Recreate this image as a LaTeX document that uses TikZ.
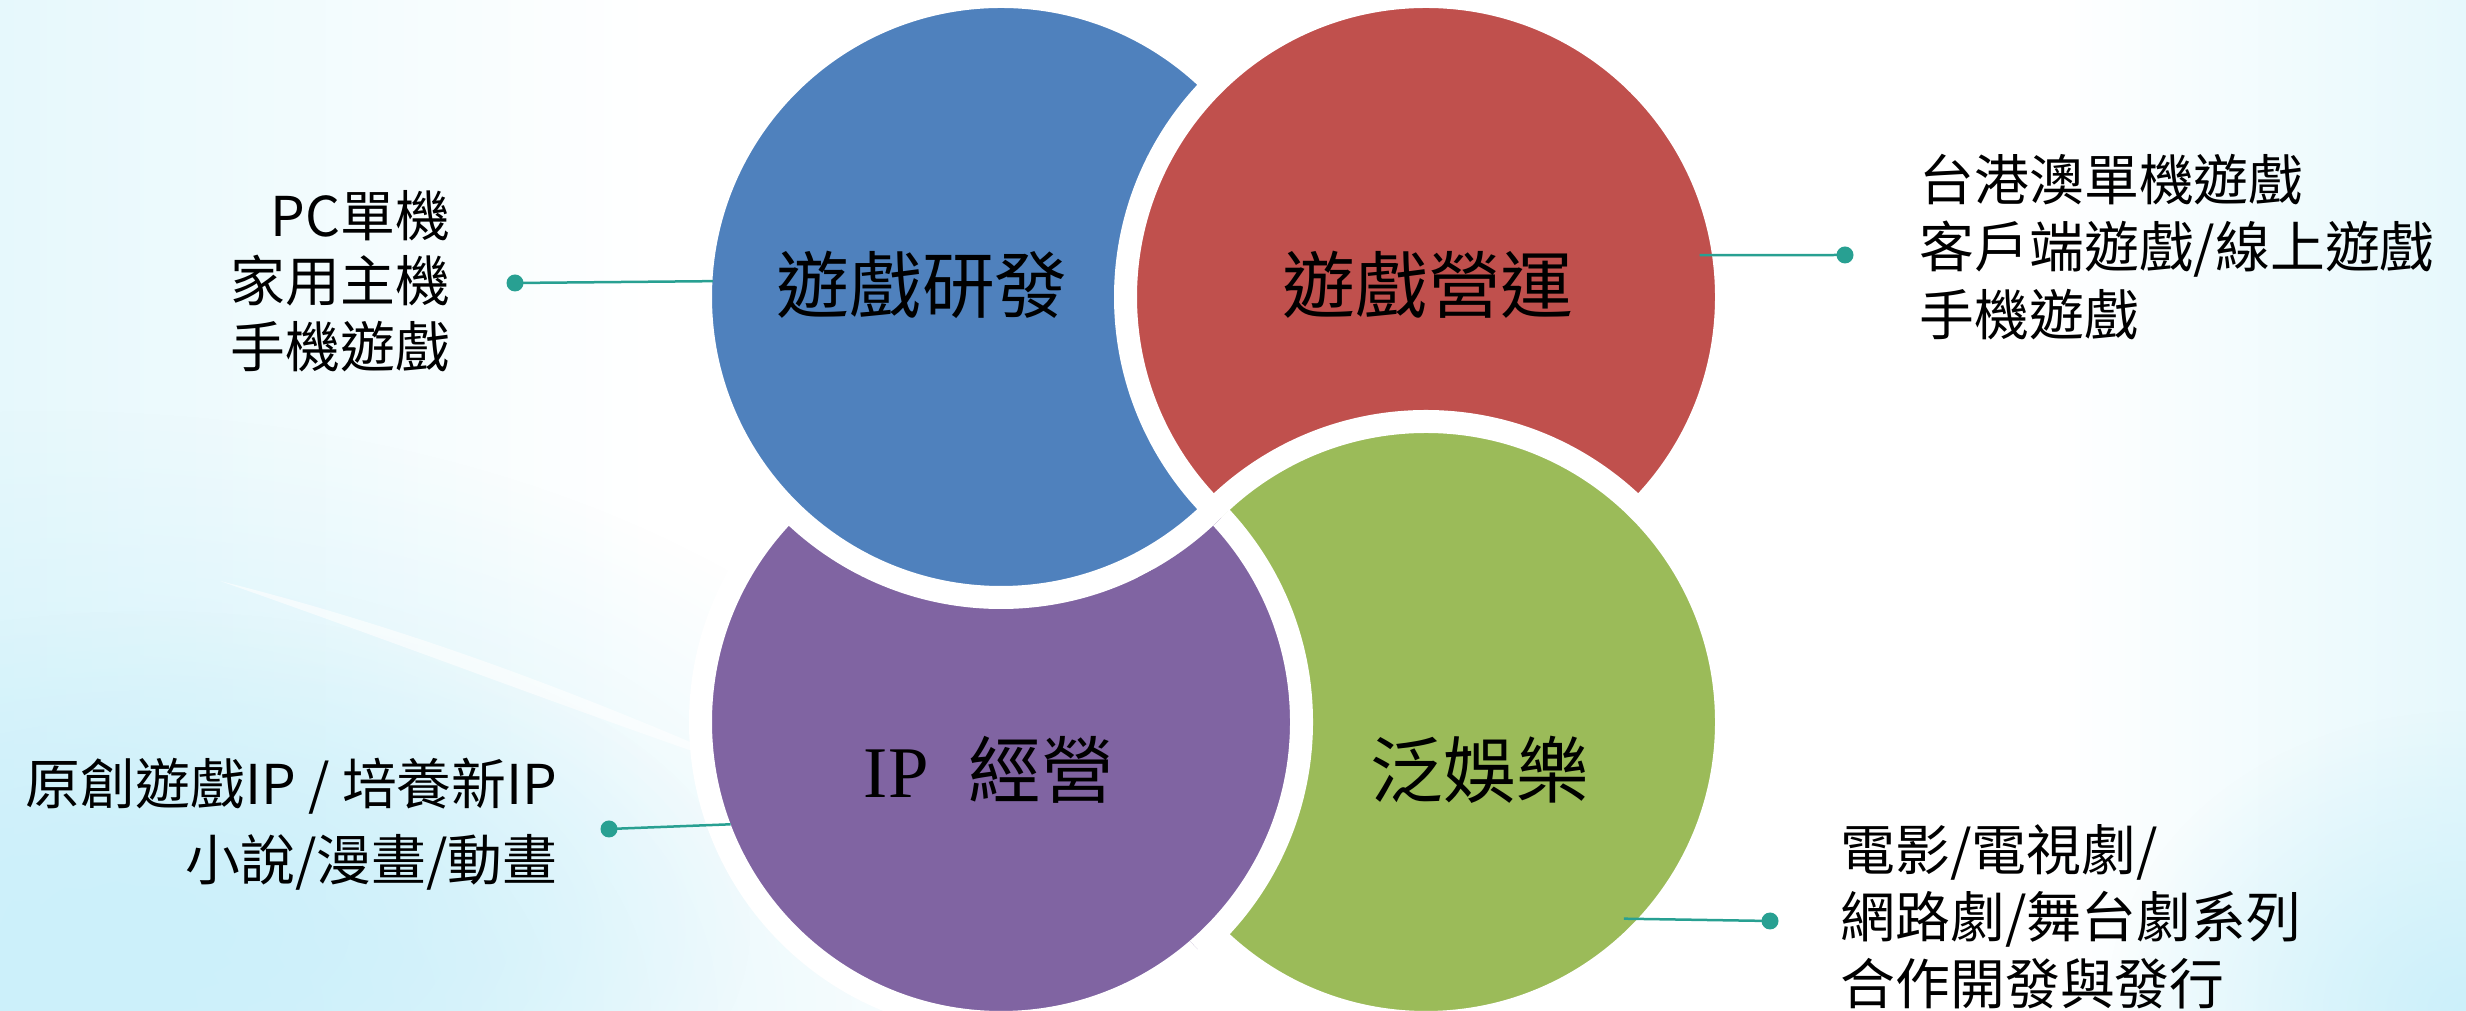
\documentclass[tikz,border=0pt]{standalone}
\usepackage{fontspec}
\setmainfont{Noto Sans CJK TC}
\newfontfamily\ipserif{Liberation Serif}
\usepackage{tikz}
\usetikzlibrary{positioning,fadings}
\tikzfading[name=softblob,inner color=transparent!0,outer color=transparent!100]

\definecolor{devblue}{RGB}{79,129,189}
\definecolor{opsred}{RGB}{192,80,77}
\definecolor{entgreen}{RGB}{155,187,89}
\definecolor{ippurple}{RGB}{128,100,162}
\definecolor{linkteal}{RGB}{40,160,146}
\definecolor{bgcyan}{RGB}{204,240,250}
\definecolor{bgcyanlight}{RGB}{230,248,252}

\begin{document}
\begin{tikzpicture}[
        bubble/.style={circle,draw=white,line width=0.23cm,inner sep=0pt,outer sep=0pt,minimum size=6.01cm,fill=#1},
        biglabel/.style={inner sep=0pt,font=\fontsize{20.7}{24}\selectfont},
        sidetext/.style={inner sep=0pt,font=\fontsize{15.6}{#1}\selectfont},
        sidetext/.default=18.9,
        link/.style={draw=linkteal,line width=0.025cm},
        dot/.style={circle,fill=linkteal,inner sep=0pt,minimum size=0.17cm}
    ]
            \useasboundingbox (0,0) rectangle (24.66,10.11);
            \clip (0,0) rectangle (24.66,10.11);

            % background
            \fill[white] (0,0) rectangle (24.66,10.11);
            \shade[left color=bgcyanlight,right color=white] (0,0) rectangle (6.5,10.11);
            \shade[left color=white,right color=bgcyanlight] (20.5,0) rectangle (24.66,10.11);
            \fill[bgcyan,path fading=softblob] (0.5,0) ellipse (10 and 6);
            \fill[bgcyan,path fading=softblob] (1.5,0.8) ellipse (6 and 3.2);
            \fill[white,opacity=0.6] (2.2,4.3) .. controls (4.2,3.6) and (6,2.9) .. (7.8,2.3) .. controls (6,3.1) and (4.2,3.8) .. (2.2,4.3) -- cycle;
            \fill[bgcyan,path fading=softblob] (24.66,0) ellipse (3.6 and 3);

            % circles
            \node[bubble=ippurple] (ip) at (10.01,2.89) {};
            \node[bubble=devblue] (dev) at (10.01,7.14) {};
            \node[bubble=opsred] (ops) at (14.26,7.14) {};
            \node[bubble=entgreen] (ent) at (14.26,2.89) {};
            \begin{scope}[even odd rule]
                \clip (0,0) rectangle (24.66,10.11) (dev.center) circle (3.12);
                \clip (ent.center) circle (3.22);
                \draw[draw=white,line width=0.23cm,fill=ippurple] (ip.center) circle (3.005);
            \end{scope}

            \node[biglabel] (devtext) at (9.22,7.26) {遊戲研發};
            \node[biglabel] (opstext) at (14.28,7.26) {遊戲營運};
            \node[biglabel] (iptext) at (9.89,2.41) {{\ipserif IP}\hspace{0.55em}經營};
            \node[biglabel] (enttext) at (14.80,2.41) {泛娛樂};

            % side lists
            \node[sidetext=18.6,align=right,anchor=east] (devlist) at (4.51,7.30) {PC單機\\家用主機\\手機遊戲};
            \node[sidetext=19.1,align=left,anchor=west] (opslist) at (19.19,7.64) {台港澳單機遊戲\\客戶端遊戲/線上遊戲\\手機遊戲};
            \node[sidetext=21.5,align=right,anchor=east] (iplist) at (5.58,1.87) {原創遊戲IP / 培養新IP\\小說/漫畫/動畫};
            \node[sidetext=19.1,align=left,anchor=west] (entlist) at (18.40,0.94) {電影/電視劇/\\網路劇/舞台劇系列\\合作開發與發行};

            \node[dot] (devdot) at (5.15,7.28) {};
            \node[dot] (opsdot) at (18.45,7.56) {};
            \node[dot] (ipdot) at (6.09,1.82) {};
            \node[dot] (entdot) at (17.70,0.90) {};

            \draw[link,shorten >=-0.12cm] (devdot.center) -- (dev.177.3);
            \draw[link,shorten >=-0.24cm] (opsdot.center) -- (ops.8);
            \draw[link,shorten >=-0.12cm] (ipdot.center) -- (ip.200.9);
            \draw[link,shorten >=-0.29cm] (entdot.center) -- (ent.-41.5);
        \end{tikzpicture}
\end{document}
